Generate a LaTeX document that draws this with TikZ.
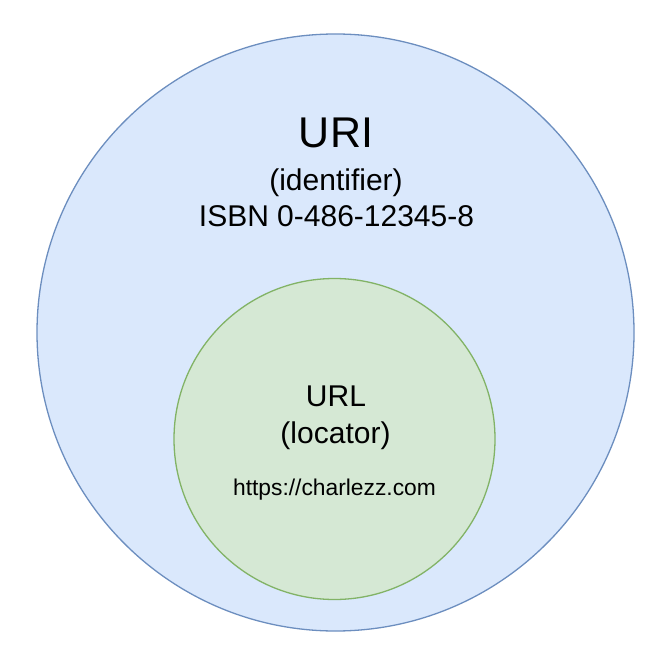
\documentclass[tikz,border=0pt]{standalone}
\usepackage{fontspec}
\setmainfont{Liberation Sans}
\definecolor{blueFill}{HTML}{DAE8FC}
\definecolor{blueLine}{HTML}{6C8EBF}
\definecolor{greenFill}{HTML}{D5E8D4}
\definecolor{greenLine}{HTML}{82B366}
\tikzset{
  ring/.style={circle, inner sep=0pt, line width=1.3pt},
  lbl/.style={anchor=base, inner sep=0pt, text=black},
}
\begin{document}
\begin{tikzpicture}[x=1pt, y=-1pt]
\useasboundingbox (0,0) rectangle (672,658);
\node[ring, draw=blueLine, fill=blueFill, minimum size=597pt] (uri) at (335.5,332.5) {};
\node[ring, draw=greenLine, fill=greenFill, minimum size=321pt] (url) at (334.5,439) {};
\node[lbl, font=\fontsize{43}{50}\selectfont] (uriT) at (336,148) {URI};
\node[lbl, font=\fontsize{30}{36}\selectfont] (uriI) at (336,190) {(identifier)};
\node[lbl, font=\fontsize{30}{36}\selectfont] (uriE) at (336.5,226.5) {ISBN 0-486-12345-8};
\node[lbl, font=\fontsize{30}{36}\selectfont] (urlT) at (336,406) {URL};
\node[lbl, font=\fontsize{30}{36}\selectfont] (urlL) at (335.5,443) {(locator)};
\node[lbl, font=\fontsize{22.8}{28}\selectfont] (urlE) at (334.5,495) {https://charlezz.com};
\end{tikzpicture}
\end{document}
